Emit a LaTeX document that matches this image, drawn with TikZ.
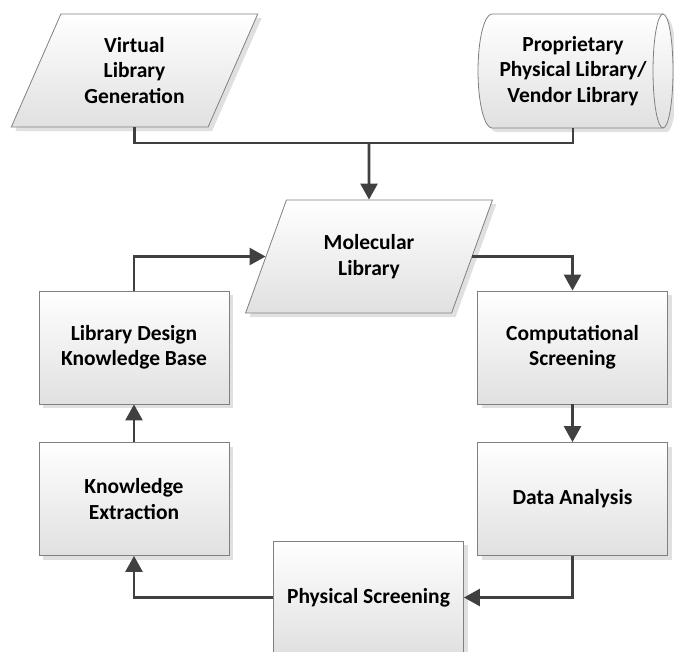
\documentclass[tikz,border=0pt]{standalone}
\usepackage{fontspec}
\setmainfont{Carlito}
\usetikzlibrary{shapes.geometric,arrows.meta,shadows}
\definecolor{linegray}{HTML}{404040}
\definecolor{edgegray}{HTML}{808080}
\tikzset{
  skin/.style={draw=edgegray, line width=0.8pt,
    top color=white, bottom color=black!12,
    drop shadow={shadow xshift=4pt, shadow yshift=-4pt, fill=black, opacity=0.12}},
  label/.style={font=\fontsize{21.5}{25.5}\selectfont\bfseries, align=center, inner sep=0pt},
  procbox/.style={skin, label, rectangle, minimum width=190pt, minimum height=113pt},
  databox/.style={skin, label, trapezium, trapezium left angle=63, trapezium right angle=117,
    trapezium stretches=true, minimum width=247pt, minimum height=113pt},
  storetext/.style={label, rectangle, minimum width=195pt, minimum height=114pt},
  flow/.style={draw=linegray, line width=2.6pt},
  flowarrow/.style={flow, -{Triangle[length=16pt,width=17pt]}},
}
\begin{document}
\begin{tikzpicture}[x=1pt,y=1pt]
  \useasboundingbox (0,0) rectangle (674,-651);

  % stored data source: horizontal drum with its end face on the right
  \path[skin] (492,-14) -- (663,-14)
    arc[start angle=90, end angle=-90, x radius=10, y radius=57]
    -- (492,-128)
    arc[start angle=270, end angle=90, x radius=14, y radius=57] -- cycle;
  \draw[edgegray, line width=0.8pt] (663,-14)
    arc[start angle=90, end angle=270, x radius=10, y radius=57];
  \node[storetext] (prop) at (573,-71) {Proprietary\\Physical Library/\\Vendor Library};

  % generated source
  \node[databox] (vlg) at (134.5,-70.5) {Virtual\\Library\\Generation};

  % central library and the screening cycle
  \node[databox] (ml) at (369,-256.5) {Molecular\\Library};
  \node[procbox] (ldkb) at (134,-347.5) {Library Design\\Knowledge Base};
  \node[procbox] (ke) at (134,-499) {Knowledge\\Extraction};
  \node[procbox] (cs) at (572.5,-347.5) {Computational\\Screening};
  \node[procbox] (da) at (572.5,-499) {Data Analysis};
  \node[procbox] (ps) at (368.5,-597.5) {Physical Screening};

  % merge of the two sources
  \coordinate (join) at (369,-143);
  \draw[flow] (vlg.south) |- (join) -| (prop.south);
  \draw[flowarrow] (join) -- (ml.north);

  % cycle
  \draw[flowarrow] (ml.east) -| (cs.north);
  \draw[flowarrow] (cs.south) -- (da.north);
  \draw[flowarrow] (da.south) |- (ps.east);
  \draw[flowarrow] (ps.west) -| (ke.south);
  \draw[flowarrow] (ke.north) -- (ldkb.south);
  \draw[flowarrow] (ldkb.north) |- (ml.west);
\end{tikzpicture}
\end{document}
